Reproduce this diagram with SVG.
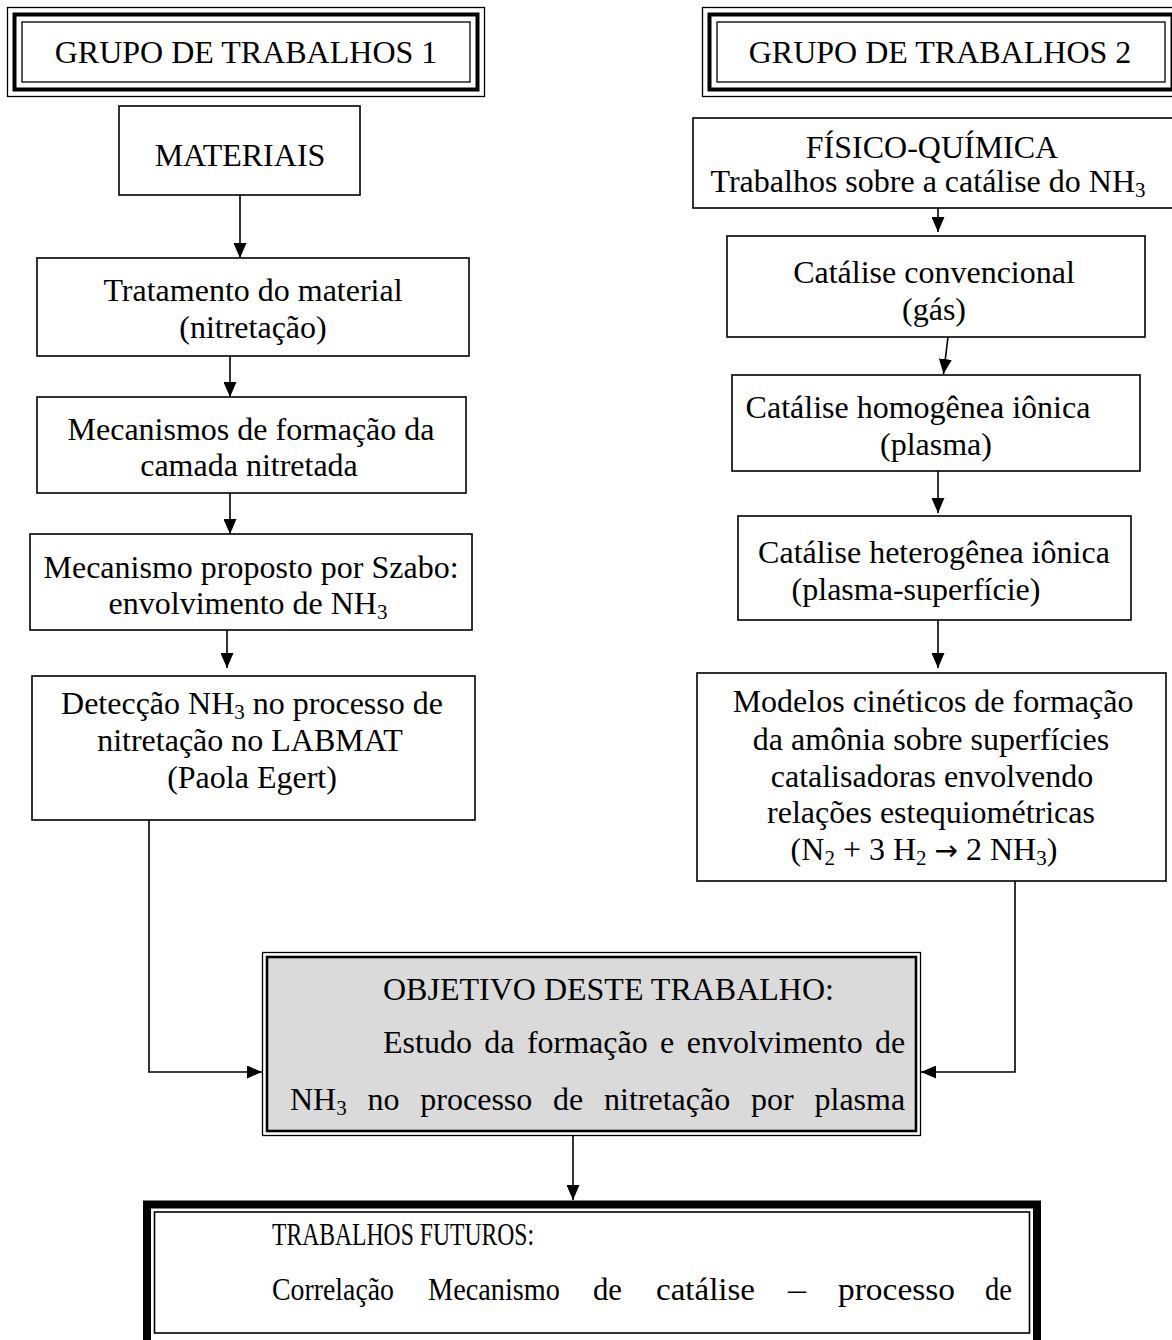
<svg xmlns="http://www.w3.org/2000/svg" width="1172" height="1340" viewBox="0 0 1172 1340">
<style>
text{font-family:"Liberation Serif","Times New Roman",serif;font-size:32px;fill:#000}
.c{text-anchor:middle}
.sub{font-size:21px}
.arr{font-family:"DejaVu Sans",sans-serif;font-size:28px}
.box{fill:#fff;stroke:#000;stroke-width:1.6}
.thin{fill:none;stroke:#000;stroke-width:1.3}
.thick{fill:none;stroke:#000;stroke-width:4}
.ln{fill:none;stroke:#000;stroke-width:1.6}
</style>
<defs>
<marker id="ah" markerUnits="userSpaceOnUse" markerWidth="15" markerHeight="13" viewBox="0 0 15 13" refX="15" refY="6.5" orient="auto">
<path d="M0,0 L15,6.5 L0,13 z" fill="#000"/>
</marker>
</defs>
<rect width="1172" height="1340" fill="#fff"/>

<g id="connectors">
<line class="ln" x1="240" y1="195" x2="240" y2="258" marker-end="url(#ah)"/>
<line class="ln" x1="230" y1="356" x2="230" y2="397" marker-end="url(#ah)"/>
<line class="ln" x1="230" y1="493" x2="230" y2="534" marker-end="url(#ah)"/>
<line class="ln" x1="227" y1="630" x2="227" y2="668" marker-end="url(#ah)"/>
<polyline class="ln" points="149,820 149,1072 262,1072" marker-end="url(#ah)"/>
<line class="ln" x1="938" y1="208" x2="938" y2="232" marker-end="url(#ah)"/>
<line class="ln" x1="948" y1="337" x2="943.5" y2="374" marker-end="url(#ah)"/>
<line class="ln" x1="938" y1="471" x2="938" y2="513" marker-end="url(#ah)"/>
<line class="ln" x1="938" y1="620" x2="938" y2="668" marker-end="url(#ah)"/>
<polyline class="ln" points="1015,878 1015,1072 921,1072" marker-end="url(#ah)"/>
<line class="ln" x1="573" y1="1136" x2="573" y2="1200" marker-end="url(#ah)"/>
</g>

<g id="grupo1">
<rect x="7.5" y="7.5" width="477" height="89" fill="#fff" class="thin"/>
<rect x="14.5" y="14.5" width="463" height="75" class="thick"/>
<rect x="22" y="22" width="448" height="60" class="thin"/>
<text class="c" x="246" y="63">GRUPO DE TRABALHOS 1</text>
</g>

<g id="grupo2">
<rect x="702.5" y="7.5" width="477" height="89" fill="#fff" class="thin"/>
<rect x="709.5" y="14.5" width="463" height="75" class="thick"/>
<rect x="717" y="22" width="448" height="60" class="thin"/>
<text class="c" x="940" y="63">GRUPO DE TRABALHOS 2</text>
</g>

<g id="materiais">
<rect class="box" x="119" y="106" width="241" height="89"/>
<text class="c" x="240" y="166">MATERIAIS</text>
</g>

<g id="tratamento">
<rect class="box" x="37" y="258" width="432" height="98"/>
<text class="c" x="253" y="301">Tratamento do material</text>
<text class="c" x="253" y="338">(nitretação)</text>
</g>

<g id="mecanismos">
<rect class="box" x="37" y="397" width="429" height="96"/>
<text class="c" x="251" y="440">Mecanismos de formação da</text>
<text class="c" x="249" y="476">camada nitretada</text>
</g>

<g id="szabo">
<rect class="box" x="30" y="534" width="442" height="96"/>
<text class="c" x="251" y="578">Mecanismo proposto por Szabo:</text>
<text class="c" x="248" y="614">envolvimento de NH<tspan class="sub" dy="5">3</tspan></text>
</g>

<g id="deteccao">
<rect class="box" x="32" y="676" width="443" height="144"/>
<text class="c" x="252" y="714">Detecção NH<tspan class="sub" dy="5">3</tspan><tspan dy="-5"> no processo de</tspan></text>
<text class="c" x="250" y="751">nitretação no LABMAT</text>
<text class="c" x="252" y="788">(Paola Egert)</text>
</g>

<g id="fisicoquimica">
<rect class="box" x="693" y="118" width="485" height="90"/>
<text class="c" x="932" y="158">FÍSICO-QUÍMICA</text>
<text class="c" x="928" y="192">Trabalhos sobre a catálise do NH<tspan class="sub" dy="5">3</tspan></text>
</g>

<g id="convencional">
<rect class="box" x="727" y="236" width="418" height="101"/>
<text class="c" x="934" y="283">Catálise convencional</text>
<text class="c" x="934" y="320">(gás)</text>
</g>

<g id="homogenea">
<rect class="box" x="732" y="375" width="408" height="96"/>
<text class="c" x="918" y="418">Catálise homogênea iônica</text>
<text class="c" x="936" y="455">(plasma)</text>
</g>

<g id="heterogenea">
<rect class="box" x="738" y="516" width="393" height="104"/>
<text class="c" x="934" y="563">Catálise heterogênea iônica</text>
<text class="c" x="916" y="600">(plasma-superfície)</text>
</g>

<g id="modelos">
<rect class="box" x="697" y="673" width="469" height="208"/>
<text class="c" x="933" y="712">Modelos cinéticos de formação</text>
<text class="c" x="931" y="750">da amônia sobre superfícies</text>
<text class="c" x="932" y="787">catalisadoras envolvendo</text>
<text class="c" x="931" y="823">relações estequiométricas</text>
<text class="c" x="924" y="860">(N<tspan class="sub" dy="5">2</tspan><tspan dy="-5"> + 3 H</tspan><tspan class="sub" dy="5">2</tspan><tspan dy="-5"> </tspan><tspan class="arr">→</tspan><tspan> 2 NH</tspan><tspan class="sub" dy="5">3</tspan><tspan dy="-5">)</tspan></text>
</g>

<g id="objetivo">
<rect x="262.5" y="952.5" width="658" height="183" fill="#fff" class="thin"/>
<rect x="267" y="957" width="649" height="174" fill="#dadada" stroke="#000" stroke-width="2.6"/>
<text x="383" y="1000">OBJETIVO DESTE TRABALHO:</text>
<text x="383" y="1053" word-spacing="4.4">Estudo da formação e envolvimento de</text>
<text x="290" y="1110" word-spacing="12.8">NH<tspan class="sub" dy="5">3</tspan><tspan dy="-5"> no processo de nitretação por plasma</tspan></text>
</g>

<g id="futuros">
<rect x="147" y="1204.5" width="890" height="140" fill="#fff" stroke="#000" stroke-width="8"/>
<rect x="154.5" y="1212" width="875" height="121" fill="none" stroke="#000" stroke-width="1.6"/>
<text x="272" y="1245" textLength="262" lengthAdjust="spacingAndGlyphs">TRABALHOS FUTUROS:</text>
<text x="272" y="1300" textLength="122" lengthAdjust="spacingAndGlyphs">Correlação</text>
<text x="428" y="1300" textLength="132" lengthAdjust="spacingAndGlyphs">Mecanismo</text>
<text x="593" y="1300" textLength="29" lengthAdjust="spacingAndGlyphs">de</text>
<text x="656" y="1300" textLength="99" lengthAdjust="spacingAndGlyphs">catálise</text>
<text x="788" y="1300" textLength="18" lengthAdjust="spacingAndGlyphs">–</text>
<text x="838" y="1300" textLength="117" lengthAdjust="spacingAndGlyphs">processo</text>
<text x="985" y="1300" textLength="27" lengthAdjust="spacingAndGlyphs">de</text>
</g>
</svg>
